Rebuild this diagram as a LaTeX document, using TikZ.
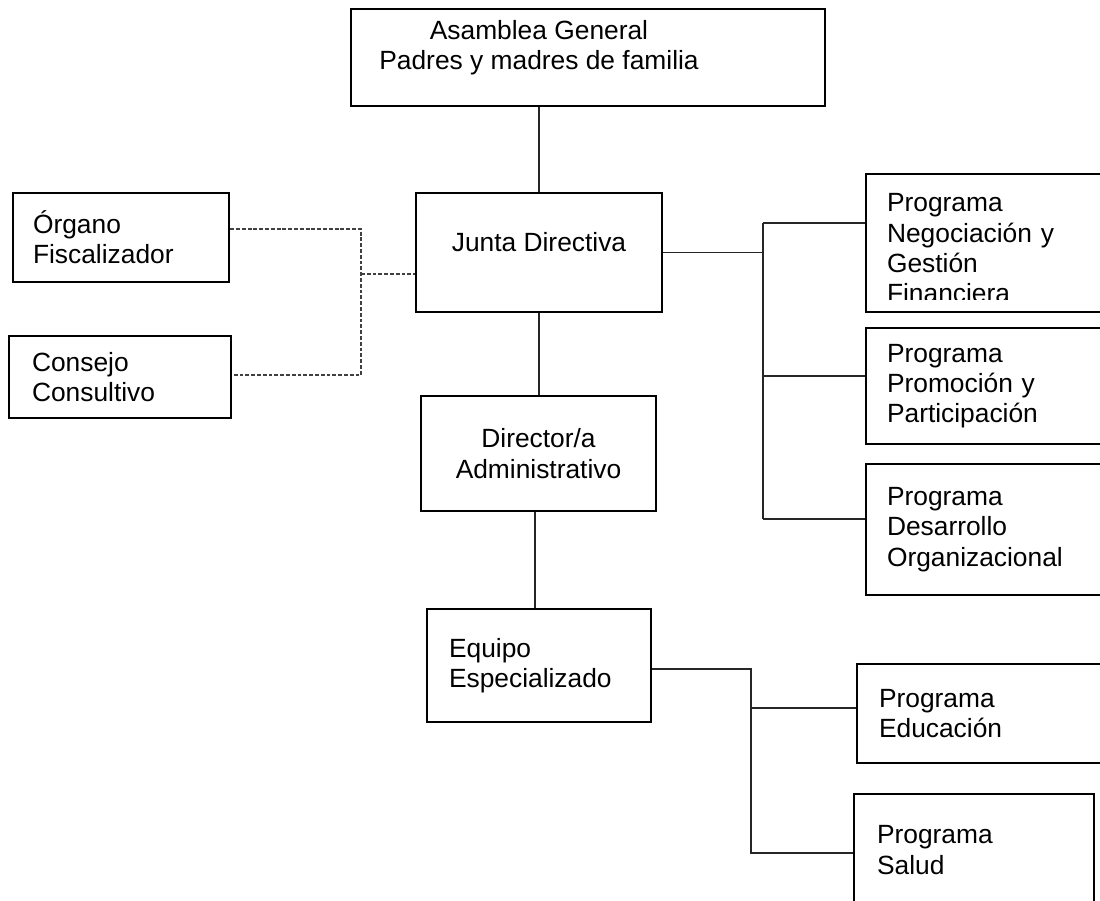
\documentclass[tikz,border=0pt]{standalone}
\usepackage{fontspec}
\setmainfont{Liberation Sans}
\usepackage{tikz}

\begin{document}
\begin{tikzpicture}[x=0.02cm,y=-0.02cm,
    font=\fontsize{15}{17.2}\selectfont,
    unidad/.style={draw,line width=1.5pt,rectangle,inner ysep=2pt},
    izq/.style={unidad,align=left},
    cen/.style={unidad,align=center},
    rotulo/.style={align=center,inner sep=0pt},
    linea/.style={line width=0.6pt,black!85},
    punteada/.style={line width=0.6pt,black!75,dash pattern=on 2.2pt off 1.1pt}]
    \useasboundingbox (0,0) rectangle (1100,901);
    \clip (0,0) rectangle (1100,901);

    \node[unidad,minimum width=9.48cm,minimum height=1.94cm,
      label={[rotulo,xshift=-0.98cm,yshift=0.19cm]center:{Asamblea General\\Padres y madres de familia}}] (AG) at (588,57.5) {};
    \node[unidad,minimum width=4.92cm,minimum height=2.38cm,
      label={[rotulo,yshift=0.21cm]center:{Junta Directiva}}] (JD) at (539,252.5) {};
    \node[izq,minimum height=1.78cm,inner xsep=0.4cm,text width=3.52cm] (OF) at (121,237.5) {Órgano\\Fiscalizador};
    \node[izq,minimum height=1.64cm,inner xsep=0.46cm,text width=3.52cm] (CC) at (120,377) {Consejo\\Consultivo};
    \node[cen,minimum width=4.70cm,minimum height=2.30cm] (DA) at (538.5,453.5) {Director/a\\Administrativo};
    \node[izq,minimum height=2.26cm,inner xsep=0.44cm,text width=3.6cm] (EE) at (539,665.5) {Equipo\\Especializado};

    \node[izq,minimum height=2.76cm,inner xsep=0.42cm,text width=4.04cm] (PN) at (988,243) {\rule{0pt}{16.4pt}Programa\\Negociación y\\Gestión\\Financiera};
    \fill[white] (868,300) rectangle (1100,310.5);
    \node[izq,minimum height=2.32cm,inner xsep=0.42cm,text width=4.04cm] (PP) at (988,386) {Programa\\Promoción y\\Participación};
    \node[izq,minimum height=2.62cm,inner xsep=0.42cm,text width=4.04cm] (PD) at (988,529.5) {Programa\\Desarrollo\\Organizacional};
    \node[izq,minimum height=1.98cm,inner xsep=0.44cm,text width=4.18cm] (PE) at (983.5,713.5) {Programa\\Educación};
    \node[izq,minimum height=2.24cm,inner xsep=0.46cm,text width=3.88cm] (PS) at (974,850) {Programa\\Salud};

    \draw[linea] (JD.north) -- (JD.north |- AG.south);
    \draw[linea] (JD.south) -- (JD.south |- DA.north);
    \coordinate (v1) at (535,560);
    \draw[linea] (DA.south -| v1) -- (EE.north -| v1);

    \coordinate (b1) at (763,223);
    \coordinate (b2) at (763,376);
    \coordinate (b3) at (763,519);
    \draw[linea] (JD.east) -- (JD.east -| b1);
    \draw[linea] (b1) -- (b3);
    \draw[linea] (b1) -- (b1 -| PN.west);
    \draw[linea] (b2) -- (b2 -| PP.west);
    \draw[linea] (b3) -- (b3 -| PD.west);

    \coordinate (e1) at (751,669);
    \coordinate (e2) at (751,708);
    \coordinate (e3) at (751,853);
    \draw[linea] (EE.east |- e1) -- (e1) -- (e3) -- (e3 -| PS.west);
    \draw[linea] (e2) -- (e2 -| PE.west);

    \coordinate (d1) at (361,229);
    \coordinate (d2) at (361,375);
    \coordinate (d3) at (361,274);
    \draw[punteada] (OF.east |- d1) -- (d1) -- (d2) -- (CC.east |- d2);
    \draw[punteada] (d3) -- (d3 -| JD.west);
\end{tikzpicture}
\end{document}
